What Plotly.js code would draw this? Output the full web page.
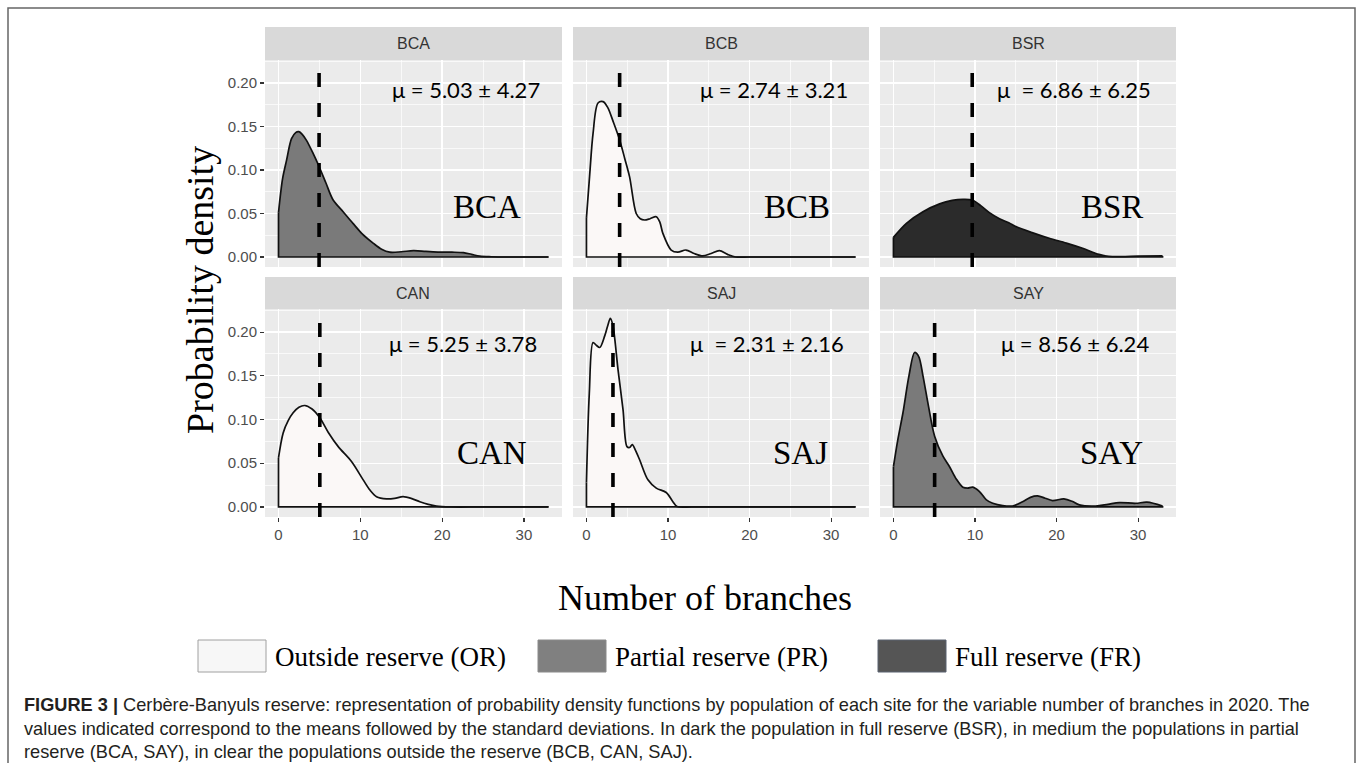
<!DOCTYPE html>
<html>
<head>
<meta charset="utf-8">
<script src="https://cdn.plot.ly/plotly-3.0.1.min.js"></script>
<style>
html,body{margin:0;padding:0;background:#fff;}
#chart{width:1360px;height:763px;}
</style>
</head>
<body>
<div id="chart"></div>
<script>
// ---------------- data ----------------
const categories = ['BCA', 'BCB', 'BSR', 'CAN', 'SAJ', 'SAY'];
const reserveType = ['PR', 'OR', 'FR', 'OR', 'OR', 'PR'];
const meanLabels = ['μ = 5.03 ± 4.27', 'μ = 2.74 ± 3.21', 'μ  = 6.86 ± 6.25',
                    'μ = 5.25 ± 3.78', 'μ  = 2.31 ± 2.16', 'μ = 8.56 ± 6.24'];
const vlineX = [4.96, 4.07, 9.66, 5.05, 3.25, 5.05];

const legendCodes = ['OR', 'PR', 'FR'];
const legendLabels = ['Outside reserve (OR)', 'Partial reserve (PR)', 'Full reserve (FR)'];

const bcaX = [0, 0.5, 0.98, 1.59, 2.1, 2.48, 2.9, 3.42, 4.23, 4.96, 5.8, 6.68, 7.9, 9.1, 10.3, 11.6, 12.6, 13.6, 15, 16.5, 18, 19.7, 21.2, 22.6, 23.6, 24.6, 26, 28, 30, 33];
const bcaY = [0.051, 0.09, 0.111, 0.136, 0.143, 0.144, 0.141, 0.134, 0.119, 0.104, 0.085, 0.0655, 0.052, 0.0387, 0.026, 0.0157, 0.009, 0.0056, 0.006, 0.0073, 0.0065, 0.0056, 0.0055, 0.005, 0.003, 0.001, 0.0003, 0, 0, 0];

const bcbX = [0, 0.4, 0.81, 1.42, 2.03, 2.6, 3.3, 4.07, 4.7, 5.29, 6.1, 6.6, 7.13, 7.8, 8.56, 9.0, 9.37, 10.39, 11.2, 12.2, 13.2, 14.25, 15.3, 16.3, 17.3, 18.3, 20, 25, 33];
const bcbY = [0.045, 0.095, 0.142, 0.177, 0.1785, 0.172, 0.155, 0.1345, 0.113, 0.092, 0.05, 0.044, 0.0425, 0.044, 0.0463, 0.04, 0.0272, 0.008, 0.0055, 0.008, 0.004, 0.0012, 0.004, 0.0073, 0.003, 0, 0, 0, 0];

const bsrX = [0, 1.59, 3.62, 5.66, 7.2, 8.51, 9.66, 10.7, 11.77, 13.0, 14.2, 15.0, 17, 19.1, 21.2, 23.2, 25.2, 26.4, 28, 30, 33];
const bsrY = [0.0226, 0.0387, 0.052, 0.061, 0.065, 0.0663, 0.0655, 0.059, 0.051, 0.044, 0.039, 0.035, 0.028, 0.0215, 0.016, 0.01, 0.003, 0.0008, 0.0005, 0.001, 0.0012];

const canX = [0, 0.57, 1.2, 1.79, 2.5, 3.21, 4.1, 5.05, 6.07, 7.3, 8.92, 10.35, 11.2, 11.98, 13.2, 14.2, 15.23, 16.3, 17.27, 18.3, 19.3, 21, 25, 33];
const canY = [0.056, 0.0847, 0.099, 0.1077, 0.114, 0.116, 0.112, 0.102, 0.0855, 0.069, 0.052, 0.031, 0.019, 0.0118, 0.0092, 0.0098, 0.0118, 0.0095, 0.006, 0.003, 0.001, 0, 0, 0];

const sajX = [0, 0.35, 0.81, 1.2, 1.63, 2.24, 2.6, 2.93, 3.25, 3.87, 4.48, 4.97, 5.3, 5.62, 6.0, 6.52, 7.54, 8.56, 9.78, 10.6, 11.1, 13, 20, 33];
const sajY = [0.028, 0.13, 0.188, 0.185, 0.1824, 0.1957, 0.207, 0.2157, 0.207, 0.157, 0.1115, 0.069, 0.068, 0.0713, 0.065, 0.054, 0.031, 0.0215, 0.0165, 0.006, 0.0005, 0, 0, 0];

const sayX = [0, 0.5, 1.17, 1.9, 2.6, 3.1, 3.62, 4.3, 5.05, 6.07, 6.88, 7.7, 8.51, 9.1, 9.73, 10.55, 11.4, 12.18, 13.4, 14.6, 15.84, 16.8, 17.67, 18.6, 19.5, 20.9, 21.9, 22.8, 24.8, 26.3, 27.7, 29.7, 31.1, 33];
const sayY = [0.046, 0.075, 0.108, 0.15, 0.1767, 0.172, 0.15, 0.115, 0.081, 0.058, 0.046, 0.032, 0.0226, 0.0215, 0.0226, 0.0176, 0.008, 0.0042, 0.0015, 0.0011, 0.006, 0.011, 0.0126, 0.01, 0.0073, 0.0092, 0.0065, 0.0023, 0.001, 0.003, 0.005, 0.0042, 0.0054, 0.001];

const xTicks = [0, 10, 20, 30];
const yTicks = [0, 0.05, 0.10, 0.15, 0.20];
const yTickText = ['0.00', '0.05', '0.10', '0.15', '0.20'];

const densX = [bcaX, bcbX, bsrX, canX, sajX, sayX];
const densY = [bcaY, bcbY, bsrY, canY, sajY, sayY];
const muPos = [[22.9, 0.192], [23.05, 0.193], [22.1, 0.193], [22.55, 0.187], [22.1, 0.187], [22.3, 0.187]];
const labPos = [[25.5, 0.0575], [25.85, 0.0575], [26.8, 0.0575], [26.1, 0.062], [26.3, 0.062], [26.8, 0.062]];

// ---------------- style ----------------
const W = 1360, H = 763;
const fillColor = {OR: '#FBF8F7', PR: '#7A7A7A', FR: '#2B2B2B'};
const legendFill = {OR: '#F7F7F7', PR: '#808080', FR: '#555555'};
const legendBorder = {OR: '#A0A0A0', PR: '#8A8A8A', FR: '#5A6270'};
const colPx = [[265, 562], [573, 869], [880, 1176]];
const rowPx = [[60, 267], [309, 517]];
const stripPx = [[27, 60], [277, 309]];
const px = v => v / W;
const py = v => 1 - v / H;

const traces = [];
const shapes = [];
const annotations = [];
const layout = {
  width: W, height: H,
  margin: {l: 0, r: 0, t: 0, b: 0},
  paper_bgcolor: '#ffffff',
  plot_bgcolor: '#EBEBEB',
  showlegend: false,
  font: {family: 'Liberation Sans, Arial, sans-serif', color: '#4D4D4D'}
};

categories.forEach((cat, i) => {
  const r = Math.floor(i / 3), c = i % 3;
  const n = i + 1;
  const xa = n === 1 ? 'x' : 'x' + n;
  const ya = n === 1 ? 'y' : 'y' + n;
  const xs = densX[i], ys = densY[i];
  const last = xs.length - 1;
  traces.push({
    type: 'scatter', mode: 'lines', x: xs, y: ys, xaxis: xa, yaxis: ya,
    fill: 'tozeroy', fillcolor: fillColor[reserveType[i]],
    line: {color: '#111', width: 1.7, shape: 'spline', smoothing: 0.9},
    hoverinfo: 'skip'
  });
  traces.push({
    type: 'scatter', mode: 'lines', xaxis: xa, yaxis: ya,
    x: [xs[0], xs[0], xs[last], xs[last]],
    y: [ys[0], 0, 0, ys[last]],
    line: {color: '#111', width: 1.7}, hoverinfo: 'skip'
  });
  layout['xaxis' + (n === 1 ? '' : n)] = {
    domain: [px(colPx[c][0]), px(colPx[c][1])],
    anchor: ya, range: [-1.65, 34.65],
    tickvals: xTicks, ticktext: xTicks.map(String),
    showticklabels: r === 1, ticks: r === 1 ? 'outside' : '',
    ticklen: 4, tickwidth: 1.1, tickcolor: '#333333',
    tickfont: {size: 15, color: '#4D4D4D', family: 'Liberation Sans, Arial, sans-serif'},
    showgrid: true, gridcolor: '#FFFFFF', gridwidth: 1.4,
    minor: {tickvals: [5, 15, 25], showgrid: true, gridcolor: '#FFFFFF', gridwidth: 0.7, ticks: ''},
    zeroline: false, showline: false, fixedrange: true
  };
  layout['yaxis' + (n === 1 ? '' : n)] = {
    domain: [py(rowPx[r][1]), py(rowPx[r][0])],
    anchor: xa, range: [-0.0115, 0.2264],
    tickvals: yTicks, ticktext: yTickText,
    showticklabels: c === 0, ticks: c === 0 ? 'outside' : '',
    ticklen: 4, tickwidth: 1.1, tickcolor: '#333333',
    tickfont: {size: 15, color: '#4D4D4D', family: 'Liberation Sans, Arial, sans-serif'},
    showgrid: true, gridcolor: '#FFFFFF', gridwidth: 1.4,
    minor: {tickvals: [0.025, 0.075, 0.125, 0.175, 0.225], showgrid: true, gridcolor: '#FFFFFF', gridwidth: 0.7, ticks: ''},
    zeroline: false, showline: false, fixedrange: true
  };
  // mean line
  shapes.push({
    type: 'line', xref: xa, yref: ya + ' domain',
    x0: vlineX[i], x1: vlineX[i], y0: 0, y1: 1,
    line: {color: '#000', width: 3.6, dash: '14px,16px'}
  });
  // strip
  shapes.push({
    type: 'rect', xref: 'paper', yref: 'paper', layer: 'below',
    x0: px(colPx[c][0]), x1: px(colPx[c][1]),
    y0: py(stripPx[r][1]), y1: py(stripPx[r][0]),
    fillcolor: '#D9D9D9', line: {width: 0}
  });
  annotations.push({
    xref: 'paper', yref: 'paper',
    x: px((colPx[c][0] + colPx[c][1]) / 2), y: py((stripPx[r][0] + stripPx[r][1]) / 2),
    text: cat, showarrow: false, xanchor: 'center', yanchor: 'middle',
    font: {family: 'Liberation Sans, Arial, sans-serif', size: 16, color: '#333333'}
  });
  annotations.push({
    xref: xa, yref: ya, x: muPos[i][0], y: muPos[i][1],
    text: meanLabels[i], showarrow: false, xanchor: 'center', yanchor: 'middle',
    font: {family: 'Lato, Carlito, sans-serif', size: 22, color: '#000'}
  });
  annotations.push({
    xref: xa, yref: ya, x: labPos[i][0], y: labPos[i][1],
    text: cat, showarrow: false, xanchor: 'center', yanchor: 'middle',
    font: {family: 'Liberation Serif, Times New Roman, serif', size: 33, color: '#000'}
  });
});

// axis titles
annotations.push({
  xref: 'paper', yref: 'paper', x: px(200), y: py(290), textangle: -90,
  text: 'Probability density', showarrow: false, xanchor: 'center', yanchor: 'middle',
  font: {family: 'Liberation Serif, Times New Roman, serif', size: 38, color: '#000'}
});
annotations.push({
  xref: 'paper', yref: 'paper', x: px(705), y: py(598),
  text: 'Number of branches', showarrow: false, xanchor: 'center', yanchor: 'middle',
  font: {family: 'Liberation Serif, Times New Roman, serif', size: 36, color: '#000'}
});

// custom legend
const legBoxX = [198, 538, 878];
legendCodes.forEach((code, k) => {
  shapes.push({
    type: 'rect', xref: 'paper', yref: 'paper',
    x0: px(legBoxX[k]), x1: px(legBoxX[k] + 68), y0: py(672), y1: py(640),
    fillcolor: legendFill[code], line: {color: legendBorder[code], width: 1}
  });
  annotations.push({
    xref: 'paper', yref: 'paper', x: px(legBoxX[k] + 75), y: py(657),
    text: legendLabels[k], showarrow: false, xanchor: 'left', yanchor: 'middle',
    font: {family: 'Liberation Serif, Times New Roman, serif', size: 27, color: '#000'}
  });
});

// frame
shapes.push({
  type: 'rect', xref: 'paper', yref: 'paper',
  x0: px(8), x1: px(1355), y0: -0.05, y1: py(8),
  fillcolor: 'rgba(0,0,0,0)', line: {color: '#666', width: 1.5}
});

// caption
const captionLines = [
  '<b>FIGURE 3 |</b> Cerbère-Banyuls reserve: representation of probability density functions by population of each site for the variable number of branches in 2020. The',
  'values indicated correspond to the means followed by the standard deviations. In dark the population in full reserve (BSR), in medium the populations in partial',
  'reserve (BCA, SAY), in clear the populations outside the reserve (BCB, CAN, SAJ).'
];
const capY = [705, 729, 752];
captionLines.forEach((t, k) => {
  annotations.push({
    xref: 'paper', yref: 'paper', x: px(22), y: py(capY[k]),
    text: t, showarrow: false, xanchor: 'left', yanchor: 'middle',
    font: {family: 'Liberation Sans, Arial, sans-serif', size: 18.2, color: '#231F20'}
  });
});

layout.shapes = shapes;
layout.annotations = annotations;

Plotly.newPlot('chart', traces, layout, {staticPlot: true, displayModeBar: false});
</script>
</body>
</html>
